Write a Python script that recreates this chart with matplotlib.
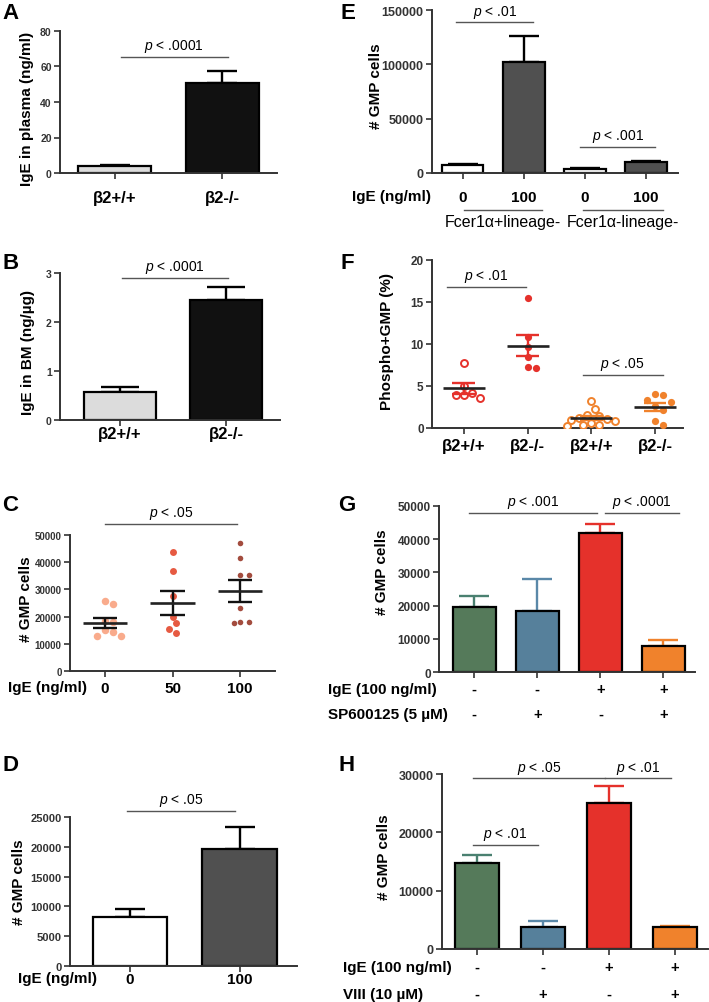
import numpy as np
import matplotlib
matplotlib.use('Agg')
import matplotlib.pyplot as plt
from matplotlib.transforms import blended_transform_factory

plt.rcParams['font.family'] = ['Liberation Sans', 'DejaVu Sans']
plt.rcParams['mathtext.fontset'] = 'custom'
plt.rcParams['mathtext.it'] = 'Liberation Sans:italic'
plt.rcParams['mathtext.rm'] = 'Liberation Sans'

W, H = 709, 1003

# ---- data ----
geno = ['β2+/+', 'β2-/-']
a_mean = [4.0, 50.5]
a_sem = [0.5, 7.0]

b_mean = [0.58, 2.45]
b_sem = [0.1, 0.27]

c_doses = ['0', '50', '100']
c_0 = [25800, 24500, 18200, 18000, 15100, 14500, 12900, 12900]
c_50 = [43900, 36600, 27700, 20000, 17500, 15400, 13800]
c_100 = [47000, 41400, 35300, 35300, 23000, 18100, 18100, 17700]

d_doses = ['0', '100']
d_mean = [8300, 19600]
d_sem = [1300, 3700]

e_doses = ['0', '100', '0', '100']
e_groups = ['Fcer1α+lineage-', 'Fcer1α-lineage-']
e_mean = [7000, 102000, 4000, 10500]
e_sem = [1000, 24000, 500, 700]

f_labels = ['β2+/+', 'β2-/-', 'β2+/+', 'β2-/-']
f_wt_red = [7.7, 5.0, 4.2, 3.9, 3.9, 3.6]
f_ko_red = [15.5, 10.8, 9.6, 8.4, 7.3, 7.2]
f_wt_or = [3.2, 2.3, 1.5, 1.4, 1.2, 1.1, 1.0, 0.8, 0.6, 0.4, 0.3, 0.2]
f_ko_or = [4.0, 3.9, 3.3, 3.1, 2.6, 2.2, 0.8, 0.4]

g_mean = [19700, 18500, 42000, 7700]
g_sem = [3300, 9500, 2700, 1800]
g_ige = ['-', '-', '+', '+']
g_sp = ['-', '+', '-', '+']

h_mean = [14800, 3700, 25000, 3700]
h_sem = [1400, 1100, 3000, 300]
h_ige = ['-', '-', '+', '+']
h_viii = ['-', '+', '-', '+']

# ---- colours ----
light, dark = '#dcdcdc', '#111111'
grey_bar = '#505050'
c_cols = ['#f9ab8c', '#e65a42', '#a34c3e']
red, orange = '#e5312b', '#f0822c'
green, blue = '#557a5a', '#56809b'
g_err = ['#4a8070', '#5a88a8', red, orange]
axc = '#333333'

fig = plt.figure(figsize=(W / 100, H / 100), dpi=100)


def panel(l, t, r, b, xlim, ylim, yticks, ysize):
    ax = fig.add_axes([l / W, 1 - b / H, (r - l) / W, (b - t) / H])
    ax.spines[['top', 'right']].set_visible(False)
    for s in ['left', 'bottom']:
        ax.spines[s].set_linewidth(1.4)
        ax.spines[s].set_color(axc)
    ax.tick_params(direction='out', length=4, width=1.2, color=axc)
    ax.set_xlim(*xlim)
    ax.set_ylim(*ylim)
    ax.set_yticks(yticks)
    ax.tick_params(axis='y', labelsize=ysize, pad=2)
    plt.setp(ax.get_yticklabels(), fontweight='bold', color=axc)
    return ax


def ftext(x, y, s, **kw):
    fig.text(x / W, 1 - y / H, s, **kw)


def letter(x, y, s):
    ftext(x, y, s, fontsize=16, fontweight='bold', ha='left', va='top')


def ylab(x, y, s):
    ftext(x, y, s, fontsize=11, fontweight='bold', rotation=90, ha='center', va='center')


def xticks(ax, labels, pad, size=11):
    ax.set_xticks(np.arange(len(labels)), labels)
    ax.tick_params(axis='x', labelsize=size, pad=pad)
    plt.setp(ax.get_xticklabels(), fontweight='bold')


def bars(ax, means, sems, colors, ecolors, cap):
    x = np.arange(len(means))
    ax.bar(x, means, width=0.68, color=colors, edgecolor='black', linewidth=1.6, zorder=2)
    for xi, m, s, ec in zip(x, means, sems, ecolors):
        ax.errorbar(xi, m, yerr=[[0], [s]], color=ec, capsize=cap, elinewidth=1.7,
                    capthick=1.7, zorder=1)


def sig(ax, x0, x1, y, txt, fs=10):
    ax.plot([x0, x1], [y, y], color='#555555', lw=1, clip_on=False)
    ax.annotate(txt, ((x0 + x1) / 2, y), xytext=(0, 2), textcoords='offset points',
                ha='center', va='bottom', fontsize=fs, annotation_clip=False)


def swarm(ax, x0, vals, d):
    xc = ax.transData.transform((x0, 0))[0]
    inv = ax.transData.inverted()
    pts, out = [], []
    for v in vals:
        yp = ax.transData.transform((x0, v))[1]
        for k in [0, 1, -1, 2, -2, 3, -3, 4, -4, 5, -5, 6, -6]:
            xp = xc + k * d * 0.5
            if all((xp - a) ** 2 + (yp - b) ** 2 >= d ** 2 for a, b in pts):
                break
        pts.append((xp, yp))
        out.append(inv.transform((xp, yp))[0])
    return out


def mean_sem(ax, x0, vals, ecolor, half_mean=0.33, half_cap=0.18):
    v = np.array(vals, dtype=float)
    m = v.mean()
    s = v.std(ddof=1) / np.sqrt(len(v))
    ax.vlines(x0, m - s, m + s, color=ecolor, lw=1.7, zorder=4)
    ax.hlines([m - s, m + s], x0 - half_cap, x0 + half_cap, color=ecolor, lw=1.7, zorder=4)
    ax.hlines(m, x0 - half_mean, x0 + half_mean, color='#222222', lw=1.9, zorder=5)


# ---- A ----
ax = panel(60, 32, 277, 174, (-0.51, 1.51), (0, 80), [0, 20, 40, 60, 80], 7.5)
bars(ax, a_mean, a_sem, [light, dark], ['black', 'black'], 11)
xticks(ax, geno, 8, 12)
sig(ax, 0.06, 1.05, 65.4, '$p$ < .0001')
letter(2, 3, 'A')
ylab(27, 109, 'IgE in plasma (ng/ml)')

# ---- B ----
ax = panel(60, 274, 280, 421, (-0.566, 1.51), (0, 3), [0, 1, 2, 3], 7.5)
bars(ax, b_mean, b_sem, [light, dark], ['black', 'black'], 14)
xticks(ax, geno, 0.5, 12)
sig(ax, 0.02, 1.02, 2.9, '$p$ < .0001')
letter(2, 253, 'B')
ylab(28, 353, 'IgE in BM (ng/µg)')

# ---- C ----
ax = panel(70, 536, 275, 672, (-0.52, 2.52), (0, 50000), np.arange(0, 50001, 10000), 7)
for i, (vals, ms) in enumerate(zip([c_0, c_50, c_100], [5.4, 5.0, 4.0])):
    xs = swarm(ax, i, vals, ms / 0.72 + 0.5)
    ax.plot(xs, vals, 'o', ms=ms, color=c_cols[i], mec='none', zorder=3)
    mean_sem(ax, i, vals, '#111111')
xticks(ax, c_doses, 3)
sig(ax, 0.0, 1.96, 54000, '$p$ < .05')
letter(2, 495, 'C')
ylab(26, 599, '# GMP cells')
ftext(8, 688, 'IgE (ng/ml)', fontsize=11, fontweight='bold', ha='left', va='center')

# ---- D ----
ax = panel(70, 818, 297, 967, (-0.545, 1.52), (0, 25000), np.arange(0, 25001, 5000), 8)
bars(ax, d_mean, d_sem, ['white', grey_bar], ['black', 'black'], 11)
xticks(ax, d_doses, 0.5)
sig(ax, -0.03, 0.96, 26000, '$p$ < .05')
letter(2, 755, 'D')
ylab(19, 882, '# GMP cells')
ftext(18, 979, 'IgE (ng/ml)', fontsize=11, fontweight='bold', ha='left', va='center')

# ---- E ----
ax = panel(432, 11, 678, 174, (-0.5, 3.52), (0, 150000), [0, 50000, 100000, 150000], 9)
bars(ax, e_mean, e_sem, ['white', grey_bar, 'white', grey_bar], ['black'] * 4, 11)
xticks(ax, e_doses, 8)
sig(ax, -0.1, 1.15, 138600, '$p$ < .01')
sig(ax, 1.92, 3.15, 24200, '$p$ < .001')
bt = blended_transform_factory(ax.transData, fig.transFigure)
for (x0, x1), name in zip([(0.03, 1.3), (1.97, 3.27)], e_groups):
    ax.plot([x0, x1], [1 - 211 / H] * 2, color='#555555', lw=1, transform=bt, clip_on=False)
    ax.text((x0 + x1) / 2, 1 - 223 / H, name, transform=bt, ha='center', va='center', fontsize=11.5)
letter(340, 3, 'E')
ylab(376, 86, '# GMP cells')
ftext(352, 197, 'IgE (ng/ml)', fontsize=11, fontweight='bold', ha='left', va='center')

# ---- F ----
ax = panel(432, 261, 683, 429, (-0.5, 3.44), (0, 20), [0, 5, 10, 15, 20], 8.5)
f_sets = [(f_wt_red, red, True), (f_ko_red, red, False), (f_wt_or, orange, True), (f_ko_or, orange, False)]
for i, (vals, col, hollow) in enumerate(f_sets):
    xs = swarm(ax, i, vals, 8)
    if hollow:
        ax.plot(xs, vals, 'o', ms=5, mfc='white', mec=col, mew=1.4, zorder=3)
    else:
        ax.plot(xs, vals, 'o', ms=5.2, color=col, mec='none', zorder=3)
    mean_sem(ax, i, vals, col)
xticks(ax, f_labels, 3, 12)
sig(ax, -0.27, 0.97, 16.8, '$p$ < .01')
sig(ax, 1.87, 3.12, 6.3, '$p$ < .05')
letter(340, 253, 'F')
ylab(387, 342, 'Phospho+GMP (%)')

# ---- G ----
ax = panel(439, 507, 695, 673, (-0.56, 3.5), (0, 50000), np.arange(0, 50001, 10000), 8.5)
bars(ax, g_mean, g_sem, [green, blue, red, orange], g_err, 11)
ax.set_xticks(np.arange(4), [''] * 4)
sig(ax, -0.08, 1.95, 48000, '$p$ < .001')
sig(ax, 2.08, 3.25, 48000, '$p$ < .0001')
bt = blended_transform_factory(ax.transData, fig.transFigure)
for yp, row in zip([690, 715], [g_ige, g_sp]):
    for i, s in enumerate(row):
        ax.text(i, 1 - yp / H, s, transform=bt, ha='center', va='center', fontsize=10.5, fontweight='bold')
ftext(328, 690, 'IgE (100 ng/ml)', fontsize=11, fontweight='bold', ha='left', va='center')
ftext(328, 715, 'SP600125 (5 µM)', fontsize=11, fontweight='bold', ha='left', va='center')
letter(338, 495, 'G')
ylab(382, 572, '# GMP cells')

# ---- H ----
ax = panel(442, 775, 708, 950, (-0.53, 3.5), (0, 30000), [0, 10000, 20000, 30000], 9)
bars(ax, h_mean, h_sem, [green, blue, red, orange], g_err, 11)
ax.set_xticks(np.arange(4), [''] * 4)
sig(ax, -0.06, 1.94, 29260, '$p$ < .05')
sig(ax, 1.94, 2.94, 29260, '$p$ < .01')
sig(ax, -0.06, 0.92, 17900, '$p$ < .01')
bt = blended_transform_factory(ax.transData, fig.transFigure)
for yp, row in zip([968, 995], [h_ige, h_viii]):
    for i, s in enumerate(row):
        ax.text(i, 1 - yp / H, s, transform=bt, ha='center', va='center', fontsize=10.5, fontweight='bold')
ftext(343, 968, 'IgE (100 ng/ml)', fontsize=11, fontweight='bold', ha='left', va='center')
ftext(343, 995, 'VIII (10 µM)', fontsize=11, fontweight='bold', ha='left', va='center')
letter(338, 755, 'H')
ylab(384, 857, '# GMP cells')

fig.savefig('out.png', dpi=100)
